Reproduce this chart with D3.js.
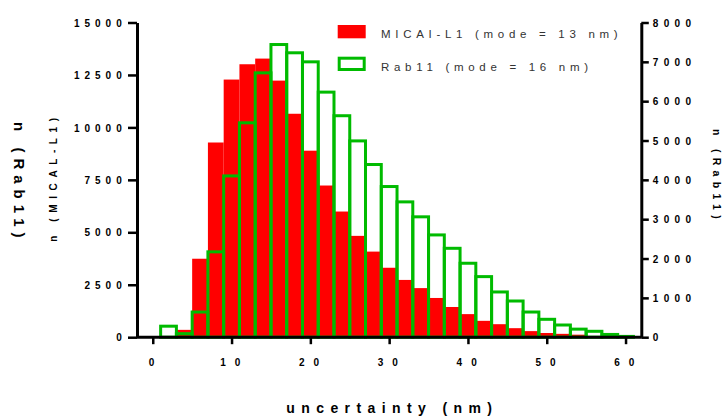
<!DOCTYPE html>
<html>
<head>
<meta charset="utf-8">
<script src="https://cdn.jsdelivr.net/npm/d3@7"></script>
<style>
  html, body { margin: 0; padding: 0; background: #ffffff; }
  svg { display: block; font-family: Arial, "Liberation Sans", sans-serif; }
</style>
</head>
<body>
<svg id="chart" width="724" height="417"></svg>
<script>
// ---- data ----
const binCenters = [2,4,6,8,10,12,14,16,18,20,22,24,26,28,30,32,34,36,38,40,42,44,46,48,50,52,54,56,58,60];
const micalValues = [0,350,3740,9280,12280,13010,13280,12230,10650,8890,7230,5990,4830,4080,3310,2730,2340,1870,1440,1100,780,620,430,290,200,160,120,50,30,10];
const rab11Values = [280,90,640,2170,4100,5450,6720,7440,7230,7000,6230,5630,4990,4390,3830,3440,3060,2600,2260,1880,1540,1150,920,640,455,310,205,150,70,20];
const binWidth = 2;
const xTicks = [0,10,20,30,40,50,60];
const leftTicks = [0,2500,5000,7500,10000,12500,15000];
const rightTicks = [0,1000,2000,3000,4000,5000,6000,7000,8000];
const seriesNames = ["MICAI-L1 (mode = 13 nm)", "Rab11 (mode = 16 nm)"];
const xTitle = "uncertainty (nm)";
const leftTitle = "n (MICAL-L1)";
const leftTitle2 = "n (Rab11)";
const rightTitle = "n (Rab11)";

const RED = "#ff0000", GREEN = "#00bb00";

const svg = d3.select("#chart");
const x = d3.scaleLinear().domain([-2, 62]).range([137, 641.3]);
const yL = d3.scaleLinear().domain([0, 15000]).range([337.2, 22.5]);
const yR = d3.scaleLinear().domain([0, 8000]).range([337.2, 22.5]);

// red bars
svg.append("g").selectAll("rect").data(binCenters).join("rect")
  .attr("x", d => x(d - binWidth/2))
  .attr("width", d => x(d + binWidth/2) - x(d - binWidth/2))
  .attr("y", (d,i) => yL(micalValues[i]))
  .attr("height", (d,i) => yL(0) - yL(micalValues[i]))
  .attr("fill", RED);

// green outlined bars
svg.append("g").selectAll("rect").data(binCenters).join("rect")
  .attr("x", d => x(d - binWidth/2))
  .attr("width", d => x(d + binWidth/2) - x(d - binWidth/2))
  .attr("y", (d,i) => yR(rab11Values[i]))
  .attr("height", (d,i) => yR(0) - yR(rab11Values[i]))
  .attr("fill", "none")
  .attr("stroke", GREEN)
  .attr("stroke-width", 3);

function styleAxis(g, ls) {
  g.select(".domain").attr("stroke", "#000").attr("stroke-width", 3);
  g.selectAll(".tick line").attr("stroke", "#000").attr("stroke-width", 2.5);
  g.selectAll(".tick text").attr("fill", "#000")
    .attr("font-size", 10).attr("font-weight", "bold")
    .attr("font-family", "Arial, 'Liberation Sans', sans-serif")
    .style("letter-spacing", ls + "px");
}

// x axis
const gx = svg.append("g").attr("transform", `translate(0,${yL(0)})`)
  .call(d3.axisBottom(x).tickValues(xTicks).tickSize(7).tickSizeOuter(0).tickPadding(15).tickFormat(d3.format("d")));
styleAxis(gx, 9);
gx.selectAll(".tick text").attr("dx", 9/2 - 1.8);
gx.select(".domain").attr("d", `M${x.range()[0]},0H${x.range()[1]}`);

// left axis
const gl = svg.append("g").attr("transform", `translate(${x.range()[0]},0)`)
  .call(d3.axisLeft(yL).tickValues(leftTicks).tickSize(9).tickSizeOuter(0).tickPadding(0).tickFormat(d3.format("d")));
styleAxis(gl, 5);
gl.selectAll(".tick text").attr("x", -15.3 + 5).attr("dy", "0.36em");

// right axis
const gr = svg.append("g").attr("transform", `translate(${x.range()[1]},0)`)
  .call(d3.axisRight(yR).tickValues(rightTicks).tickSize(7.5).tickSizeOuter(0).tickPadding(0).tickFormat(d3.format("d")));
styleAxis(gr, 5.3);
gr.selectAll(".tick text").attr("x", 11.5).attr("dy", "0.36em");

// axis titles
svg.append("text").text(xTitle)
  .attr("x", (x.range()[0] + x.range()[1]) / 2 + 3.2).attr("y", 413)
  .attr("text-anchor", "middle").attr("font-size", 14).attr("font-weight", "bold")
  .style("letter-spacing", "6.4px").attr("fill", "#000");

const midY = (yL.range()[0] + yL.range()[1]) / 2;
svg.append("text").text(leftTitle)
  .attr("transform", `translate(57,${midY}) rotate(-90)`)
  .attr("text-anchor", "middle").attr("dx", 2.8)
  .attr("font-size", 10).attr("font-weight", "bold")
  .style("letter-spacing", "5.6px").attr("fill", "#000");

svg.append("text").text(leftTitle2)
  .attr("transform", `translate(14,${midY}) rotate(90)`)
  .attr("text-anchor", "middle").attr("dx", 3)
  .attr("font-size", 15).attr("font-weight", "bold")
  .style("letter-spacing", "6px").attr("fill", "#000");

svg.append("text").text(rightTitle)
  .attr("transform", `translate(713,${midY - 6}) rotate(90)`)
  .attr("text-anchor", "middle").attr("dx", 2.6)
  .attr("font-size", 10.5).attr("font-weight", "bold")
  .style("letter-spacing", "5.3px").attr("fill", "#000");

// legend
const lg = svg.append("g");
lg.append("rect").attr("x", 337.7).attr("y", 25).attr("width", 28).attr("height", 13.3).attr("fill", RED);
lg.append("rect").attr("x", 339.2).attr("y", 58.2).attr("width", 25).attr("height", 11.3)
  .attr("fill", "none").attr("stroke", GREEN).attr("stroke-width", 3);
lg.selectAll("text.lt").data(seriesNames).join("text").attr("class", "lt")
  .text(d => d)
  .attr("x", 381).attr("y", (d,i) => i === 0 ? 38.3 : 71)
  .attr("font-size", 11.5).attr("fill", "#333")
  .style("letter-spacing", "4.7px");
</script>
</body>
</html>
